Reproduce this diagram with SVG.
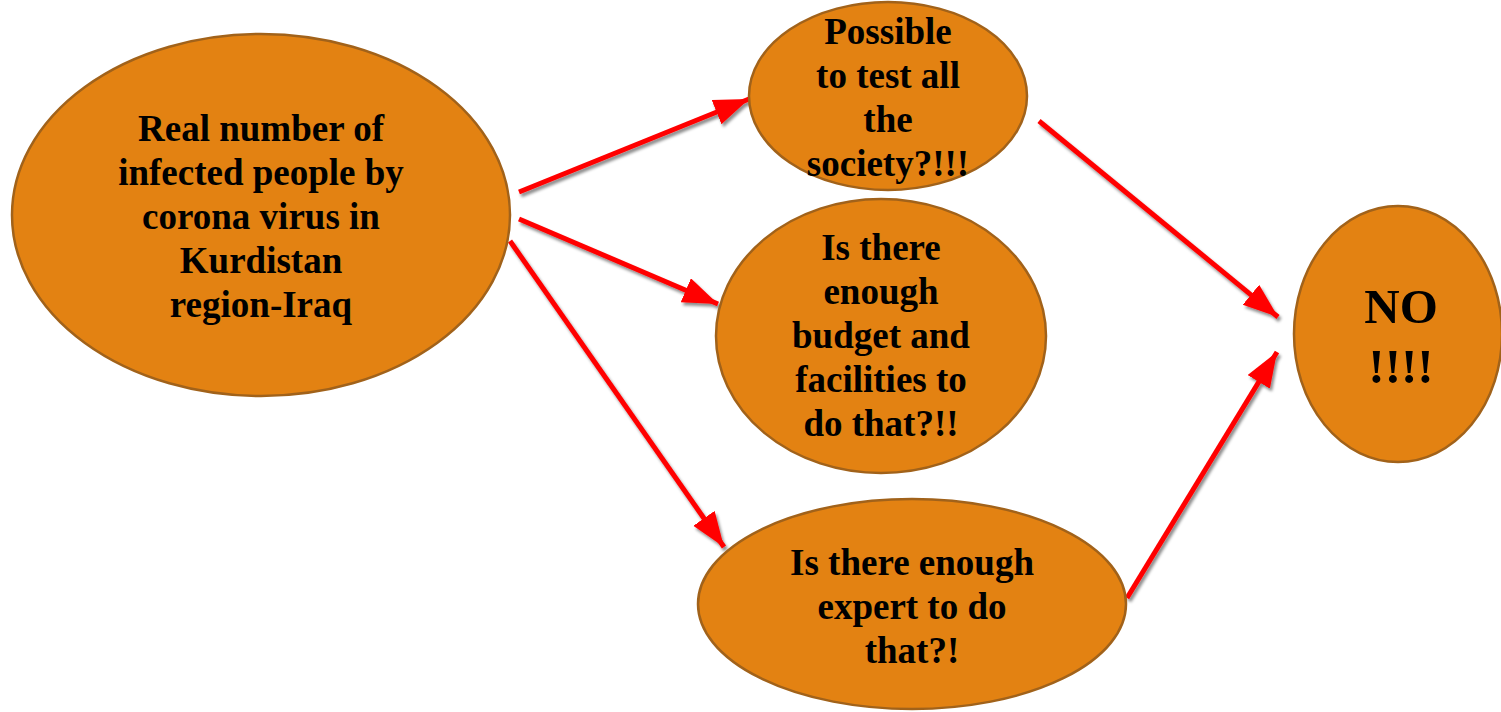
<svg xmlns="http://www.w3.org/2000/svg" width="1501" height="712" viewBox="0 0 1501 712">
<style>
.node{fill:#E38212;stroke:#A1621A;stroke-width:2.5}
.t{font-family:"Liberation Serif","Times New Roman",serif;font-weight:bold;font-size:37px;fill:#000;text-anchor:middle}
.big{font-size:49px}
.conn{stroke:#FF0000;stroke-width:5;fill:none;marker-end:url(#ah);filter:url(#sh)}
</style>
<defs>
<marker id="ah" markerUnits="userSpaceOnUse" markerWidth="38" markerHeight="28" refX="35" refY="13" orient="auto">
<path d="M0,0 L35,13 L0,26 Z" fill="#FF0000"/>
</marker>
<filter id="sh" x="-20%" y="-20%" width="140%" height="140%">
<feDropShadow dx="2" dy="3" stdDeviation="1.5" flood-color="#000" flood-opacity="0.45"/>
</filter>
</defs>
<g id="connectors">
<line class="conn" x1="519" y1="192" x2="749" y2="99"/>
<line class="conn" x1="519" y1="219" x2="718" y2="304"/>
<line class="conn" x1="510" y1="241" x2="724" y2="547"/>
<line class="conn" x1="1039" y1="121" x2="1278" y2="317"/>
<line class="conn" x1="1057" y1="336" x2="1278" y2="336"/>
<line class="conn" x1="1127" y1="598" x2="1277" y2="352"/>
</g>
<g id="n1">
<ellipse class="node" cx="261" cy="215" rx="249" ry="181"/>
<text class="t" x="261" y="141">Real number of</text>
<text class="t" x="261" y="185">infected people by</text>
<text class="t" x="261" y="229">corona virus in</text>
<text class="t" x="261" y="273">Kurdistan</text>
<text class="t" x="261" y="317">region-Iraq</text>
</g>
<g id="n2">
<ellipse class="node" cx="888" cy="96" rx="139" ry="94"/>
<text class="t" x="888" y="44">Possible</text>
<text class="t" x="888" y="88">to test all</text>
<text class="t" x="888" y="132">the</text>
<text class="t" x="888" y="176">society?!!!</text>
</g>
<g id="n3">
<ellipse class="node" cx="881" cy="336" rx="165" ry="137"/>
<text class="t" x="881" y="260">Is there</text>
<text class="t" x="881" y="304">enough</text>
<text class="t" x="881" y="348">budget and</text>
<text class="t" x="881" y="392">facilities to</text>
<text class="t" x="881" y="436">do that?!!</text>
</g>
<g id="n4">
<ellipse class="node" cx="912" cy="604" rx="214" ry="105"/>
<text class="t" x="912" y="575">Is there enough</text>
<text class="t" x="912" y="619">expert to do</text>
<text class="t" x="912" y="663">that?!</text>
</g>
<g id="n5">
<ellipse class="node" cx="1398" cy="334" rx="104" ry="128"/>
<text class="t big" x="1401" y="323">NO</text>
<text class="t big" x="1401" y="383">!!!!</text>
</g>
</svg>
